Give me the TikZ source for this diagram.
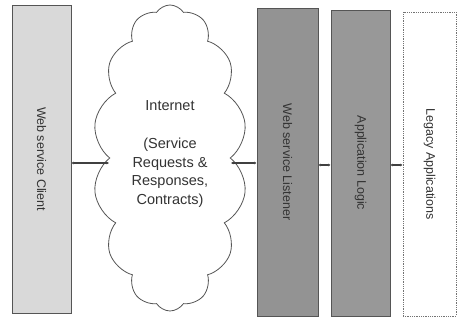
\documentclass[tikz,border=0pt]{standalone}
\usepackage{fontspec}
\setmainfont{Liberation Sans}
\usetikzlibrary{shapes.symbols,arrows.meta}

\definecolor{lightbox}{HTML}{D9D9D9}
\definecolor{darkbox}{HTML}{939393}
\definecolor{edgegray}{HTML}{555555}

\tikzset{
  tier/.style={draw=edgegray, line width=0.8pt, minimum width=#1, minimum height=306pt, inner sep=0pt},
  tierlabel/.style={rotate=-90, font=\fontsize{12.5}{14}\selectfont, text=black!80},
  link/.style={line width=1.2pt, black!75, {Latex[length=2.5pt,width=3pt]}-{Latex[length=2.5pt,width=3pt]}}
}

\begin{document}
\begin{tikzpicture}[x=1pt,y=-1pt]
\useasboundingbox (0,0) rectangle (459,323);
\node[tier=59pt, fill=lightbox, minimum height=308pt] (client) at (41.5,159) {};
\node[tierlabel] at (client) {Web service Client};
\node[cloud, draw=edgegray, line width=0.8pt, fill=white, cloud puffs=14, cloud puff arc=115,
      aspect=0.5, minimum width=154pt, minimum height=306pt, inner sep=0pt] (net) at (170,158) {};
\node[align=center, font=\fontsize{14.5}{18.5}\selectfont, text=black!80] (nettext) at (170,154)
      {Internet\\[20pt](Service\\Requests \&\\Responses,\\Contracts)};
\node[tier=61pt, fill=darkbox, minimum height=308pt] (listener) at (287.5,162) {};
\node[tierlabel] at (listener) {Web service Listener};
\node[tier=59pt, fill=darkbox!95!white] (logic) at (360.5,163) {};
\node[tierlabel] at (logic) {Application Logic};
\node[tier=53pt, draw=black!55, densely dotted, minimum height=304pt] (legacy) at (429.5,164) {};
\node[tierlabel] at (legacy) {Legacy Applications};
% connectors
\draw[link] (client.east |- 0,163) -- (net.west |- 0,163);
\draw[link] (net.east |- 0,163) -- (listener.west |- 0,163);
\draw[link] (listener.east |- 0,165) -- (logic.west |- 0,165);
\draw[link] (logic.east |- 0,165) -- (legacy.west |- 0,165);
\end{tikzpicture}
\end{document}
